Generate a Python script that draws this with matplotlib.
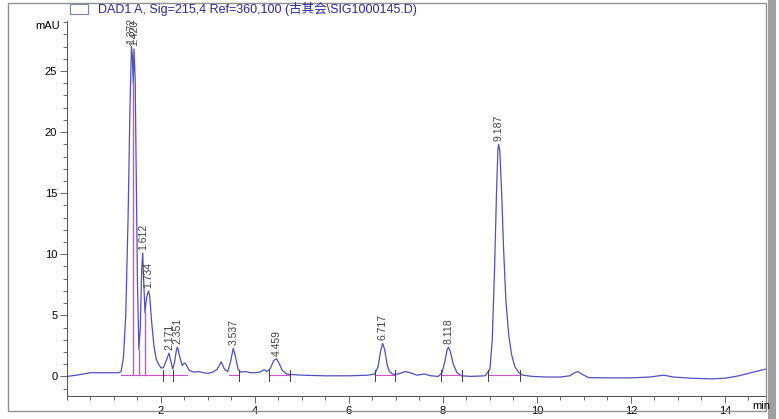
import matplotlib.pyplot as plt
from matplotlib.patches import Rectangle
from matplotlib.ticker import MultipleLocator

plt.rcParams['font.family'] = ['Liberation Sans', 'Noto Sans CJK SC', 'DejaVu Sans']

# chromatogram trace (time in min, signal in mAU)
time = [0.0, 0.2, 0.5, 0.8, 1.0, 1.1, 1.15, 1.2, 1.25, 1.3, 1.34, 1.372, 1.39, 1.41,
        1.425, 1.45, 1.47, 1.50, 1.53, 1.56, 1.59, 1.612, 1.63, 1.66, 1.69, 1.734,
        1.76, 1.80, 1.85, 1.90, 1.95, 2.0, 2.05, 2.10, 2.171, 2.20, 2.25, 2.29,
        2.33, 2.351, 2.40, 2.45, 2.50, 2.53, 2.6, 2.7, 2.8, 2.9, 3.0, 3.1, 3.2,
        3.28, 3.35, 3.42, 3.48, 3.537, 3.58, 3.64, 3.7, 3.8, 3.9, 4.0, 4.1, 4.2,
        4.25, 4.32, 4.40, 4.459, 4.51, 4.58, 4.67, 4.8, 5.0, 5.5, 6.0, 6.4, 6.55,
        6.62, 6.67, 6.717, 6.76, 6.81, 6.86, 6.95, 7.05, 7.2, 7.3, 7.45, 7.6, 7.75,
        7.9, 7.98, 8.04, 8.09, 8.118, 8.16, 8.22, 8.3, 8.4, 8.6, 8.9, 9.0, 9.05,
        9.10, 9.14, 9.17, 9.187, 9.21, 9.25, 9.29, 9.34, 9.40, 9.46, 9.53, 9.62,
        9.7, 9.9, 10.2, 10.5, 10.7, 10.8, 10.87, 10.95, 11.1, 11.5, 12.0, 12.4,
        12.7, 12.9, 13.3, 13.7, 14.0, 14.3, 14.6, 14.87]
signal = [0.0, 0.1, 0.3, 0.3, 0.3, 0.3, 0.4, 1.5, 5.0, 13.0, 22.0, 27.0, 26.3, 24.0,
          26.8, 24.5, 18.0, 7.5, 2.2, 4.0, 8.8, 10.1, 8.0, 5.2, 6.4, 7.0,
          6.6, 4.5, 2.5, 1.4, 1.0, 0.7, 0.7, 1.2, 1.9, 1.4, 0.6, 1.2,
          2.2, 2.4, 1.6, 0.9, 1.1, 1.0, 0.5, 0.35, 0.4, 0.3, 0.25, 0.35, 0.6,
          1.2, 0.6, 0.4, 1.2, 2.3, 1.7, 0.6, 0.35, 0.4, 0.3, 0.3, 0.35, 0.55,
          0.4, 0.6, 1.3, 1.45, 1.1, 0.5, 0.2, 0.15, 0.1, 0.05, 0.05, 0.1, 0.2,
          0.8, 2.0, 2.7, 2.2, 1.0, 0.4, 0.15, 0.2, 0.4, 0.3, 0.1, 0.2, 0.05,
          0.0, 0.3, 1.2, 2.2, 2.4, 2.0, 1.0, 0.3, 0.05, 0.0, 0.05, 0.6, 3.0,
          9.0, 15.0, 18.6, 19.0, 18.5, 15.0, 10.5, 6.2, 3.4, 1.8, 0.8, 0.3,
          0.1, 0.0, -0.05, -0.05, 0.05, 0.3, 0.4, 0.2, -0.1, -0.12, -0.12, -0.05,
          0.1, -0.05, -0.15, -0.2, -0.15, 0.05, 0.35, 0.6]

# integration results
peak_rt = [1.372, 1.425, 1.612, 1.734, 2.171, 2.351, 3.537, 4.459, 6.717, 8.118, 9.187]
peak_top = [27.0, 26.8, 10.1, 7.0, 1.9, 2.4, 2.3, 1.45, 2.7, 2.4, 19.0]
peak_text = ['1.372', '1.420', '1.612', '1.734', '2.171', '2.351', '3.537', '4.459',
             '6.717', '8.118', '9.187']
base_start = [1.15, 3.45, 4.30, 6.55, 7.95, 8.95]
base_end = [2.55, 3.65, 4.75, 6.95, 8.40, 9.65]
drop_t = [1.40, 1.53, 1.66]
drop_top = [24.0, 2.2, 5.2]
mark_t = [2.05, 2.25, 3.65, 4.30, 4.75, 6.55, 6.98, 7.95, 8.40, 8.95, 9.65]

trace_col = '#5050c0'
base_col = '#d050d0'

fig = plt.figure(figsize=(7.79, 4.19), dpi=100)
ax = fig.add_axes([0.086, 0.055, 0.897, 0.895])

ax.plot(time, signal, color=trace_col, lw=0.9)

for s, e in zip(base_start, base_end):
    ax.plot([s, e], [0.15, 0.15], color=base_col, lw=0.8)
for t, top in zip(drop_t, drop_top):
    ax.plot([t, t], [0.15, top], color=base_col, lw=1.0)
for t in mark_t:
    ax.plot([t, t], [-0.35, 0.5], color='#404040', lw=0.7)

for t, h, s in zip(peak_rt, peak_top, peak_text):
    ax.text(t, h + 0.25, s, rotation=90, ha='center', va='bottom',
            fontsize=7.5, color='#404040', clip_on=False)

ax.set_xlim(0, 14.87)
ax.set_ylim(-1.6, 29.1)
ax.xaxis.set_minor_locator(MultipleLocator(0.5))
ax.yaxis.set_minor_locator(MultipleLocator(1))
ax.set_xticks([2, 4, 6, 8, 10, 12, 14])
ax.set_yticks([0, 5, 10, 15, 20, 25])
ax.tick_params(axis='both', which='major', length=5, width=0.6, labelsize=8, pad=2,
               colors='#505050', labelcolor='black')
ax.tick_params(axis='both', which='minor', length=3, width=0.6, colors='#505050')
for side in ['top', 'right']:
    ax.spines[side].set_visible(False)
for side in ['left', 'bottom']:
    ax.spines[side].set_color('#505050')
    ax.spines[side].set_linewidth(0.7)

fig.text(60 / 779, 1 - 26 / 419, 'mAU', ha='right', va='center', fontsize=8)
fig.text(752 / 779, 1 - 406 / 419, 'min', ha='left', va='center', fontsize=8)

# header legend
fig.patches.append(Rectangle((70 / 779, 1 - 14 / 419), 18 / 779, 10 / 419,
                             transform=fig.transFigure, fill=False,
                             edgecolor='#8080b0', lw=0.8))
fig.text(98 / 779, 1 - 9 / 419, 'DAD1 A, Sig=215,4 Ref=360,100 (古其会\\SIG1000145.D)',
         ha='left', va='center', fontsize=9, color='#2a2aa0')

# window frame and scroll strip
fig.patches.append(Rectangle((8 / 779, 1 - 411 / 419), 758 / 779, 408 / 419,
                             transform=fig.transFigure, fill=False,
                             edgecolor='#909090', lw=1.0))
fig.patches.append(Rectangle((768 / 779, 0), 8 / 779, 1, transform=fig.transFigure,
                             facecolor='#a0a0a0', edgecolor='none'))

fig.savefig('out.png', dpi=100)
